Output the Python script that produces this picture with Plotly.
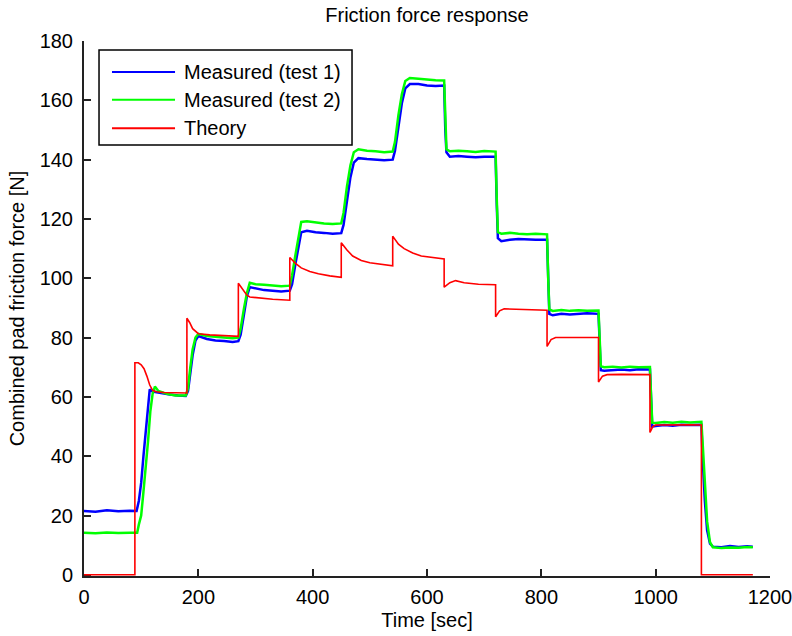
import plotly.graph_objects as go

# ---------------- data ----------------
time_test1 = [0, 20, 40, 60, 80, 92, 96, 100, 104, 108, 112, 115, 120, 135, 150, 165, 178,
              182, 186, 190, 195, 200, 215, 230, 245, 260, 270,
              274, 280, 285, 290, 300, 315, 330, 345, 360,
              364, 370, 375, 380, 390, 405, 420, 435, 450,
              454, 460, 466, 472, 480, 495, 510, 525, 540,
              544, 550, 556, 562, 570, 585, 600, 615, 630,
              632, 634, 640, 655, 670, 685, 700, 720,
              722, 724, 730, 745, 760, 775, 790, 810,
              812, 814, 820, 835, 850, 865, 880, 900,
              902, 904, 910, 925, 940, 955, 970, 990,
              992, 994, 1000, 1015, 1030, 1045, 1060, 1080,
              1082, 1086, 1090, 1095, 1100, 1115, 1130, 1145, 1160, 1170]
force_test1 = [21.5, 21.3, 21.8, 21.4, 21.6, 21.5, 25, 31, 40, 49, 58, 62.5, 61.8, 61.2, 60.8, 60.5, 60.3,
               62, 68, 74, 79, 80.5, 79.5, 79, 78.8, 78.5, 78.8,
               81, 88, 94, 97, 96.5, 96, 95.8, 95.5, 95.8,
               98, 105, 111, 115.5, 116, 115.5, 115.3, 115, 115.2,
               118, 126, 134, 139, 140.5, 140.2, 140, 139.8, 140,
               143, 151, 159, 164, 165.5, 165.5, 165, 164.8, 165,
               150, 142.5, 141, 141.2, 141, 140.8, 141, 141,
               125, 113.5, 112.5, 113, 113.2, 113, 113, 113,
               100, 88, 87.5, 88, 87.8, 88, 88.2, 88,
               78, 69, 68.8, 69, 69.2, 69, 69.3, 69.2,
               58, 50, 50.2, 50.5, 50.3, 50.6, 50.5, 50.6,
               40, 25, 15, 10.5, 9.5, 9.3, 9.7, 9.4, 9.6, 9.5]

time_test2 = [0, 20, 40, 60, 80, 93, 96, 100, 104, 108, 112, 116, 120, 124, 130, 145, 160, 178,
              182, 186, 190, 195, 200, 215, 230, 245, 260, 270,
              274, 280, 285, 290, 300, 315, 330, 345, 360,
              364, 370, 375, 380, 390, 405, 420, 435, 450,
              454, 460, 466, 472, 480, 495, 510, 525, 540,
              544, 550, 556, 562, 570, 585, 600, 615, 630,
              632, 634, 640, 655, 670, 685, 700, 720,
              722, 724, 730, 745, 760, 775, 790, 810,
              812, 814, 820, 835, 850, 865, 880, 900,
              902, 904, 910, 925, 940, 955, 970, 990,
              992, 994, 1000, 1015, 1030, 1045, 1060, 1080,
              1082, 1086, 1090, 1095, 1100, 1115, 1130, 1145, 1160, 1170]
force_test2 = [14.2, 14.0, 14.3, 14.1, 14.2, 14.2, 17, 20, 28, 36, 45, 55, 61, 63.5, 62, 61, 60.5, 60.5,
               63, 70, 76, 80, 81.2, 80.5, 80.3, 80, 79.8, 80,
               83, 90, 95, 98.5, 98, 97.8, 97.5, 97.3, 97.5,
               101, 108, 114, 119, 119.2, 118.8, 118.5, 118.3, 118.5,
               122, 131, 138, 142.5, 143.5, 143, 142.8, 142.5, 142.7,
               146, 155, 162, 166.5, 167.5, 167.3, 167, 166.8, 166.7,
               152, 143.5, 142.8, 143, 142.8, 142.6, 142.9, 142.7,
               127, 115.5, 115, 115.3, 115, 114.8, 115, 114.8,
               100, 89.5, 89, 89.3, 89, 89.2, 89, 89.1,
               80, 70.3, 70, 70.2, 69.9, 70.2, 70, 70.1,
               60, 51.3, 51.2, 51.5, 51.3, 51.6, 51.4, 51.6,
               45, 30, 18, 11, 9.3, 9.0, 9.2, 9.1, 9.4, 9.3]

time_theory = [0, 89, 89, 95, 100, 105, 110, 115, 120, 126, 140, 160, 180,
               180, 185, 190, 195, 200, 220, 240, 270,
               270, 275, 280, 285, 290, 310, 330, 360,
               360, 370, 380, 395, 410, 430, 450,
               450, 460, 470, 485, 500, 520, 540,
               540, 550, 560, 575, 590, 610, 630,
               630, 640, 650, 665, 690, 720,
               720, 727, 735, 760, 790, 810,
               810, 817, 825, 850, 880, 900,
               900, 907, 915, 940, 970, 990,
               990, 995, 1000, 1030, 1060, 1080,
               1080, 1120, 1170]
force_theory = [0, 0, 71.5, 71.5, 70.8, 69.5, 67, 64, 62.2, 61.7, 61.5, 61.5, 61.3,
                86.5, 85, 83, 82, 81.3, 80.9, 80.7, 80.4,
                98.3, 97, 95.5, 94.3, 93.7, 93.2, 92.9, 92.6,
                107, 105, 103.5, 102.3, 101.5, 100.8, 100.3,
                112, 109.5, 107.5, 106, 105.2, 104.6, 104.2,
                114.2, 111.5, 110, 108.5, 107.5, 107, 106.5,
                97, 98.5, 99.2, 98.5, 98, 97.8,
                87, 89, 89.7, 89.5, 89.3, 89.2,
                77, 79.3, 80, 80.1, 80, 80,
                65, 67, 67.5, 67.6, 67.5, 67.5,
                48, 50, 50.5, 50.6, 50.6, 50.5,
                0, 0, 0]

series_names = ["Measured (test 1)", "Measured (test 2)", "Theory"]
series_colors = ["#0000FF", "#00FF00", "#FF0000"]

x_ticks = [0, 200, 400, 600, 800, 1000, 1200]
y_ticks = [0, 20, 40, 60, 80, 100, 120, 140, 160, 180]

FONT = "Liberation Sans, Arial, sans-serif"
FS = 20

fig = go.Figure()
fig.add_trace(go.Scatter(x=time_test1, y=force_test1, mode="lines", name=series_names[0],
                         line=dict(color=series_colors[0], width=2.5), showlegend=False))
fig.add_trace(go.Scatter(x=time_test2, y=force_test2, mode="lines", name=series_names[1],
                         line=dict(color=series_colors[1], width=2.5), showlegend=False))
fig.add_trace(go.Scatter(x=time_theory, y=force_theory, mode="lines", name=series_names[2],
                         line=dict(color=series_colors[2], width=1.6), showlegend=False))

# manual MATLAB-style legend box
lx0, lx1, ly0, ly1 = 0.0219, 0.3907, 0.8056, 0.9832
fig.add_shape(type="rect", xref="paper", yref="paper", x0=lx0, x1=lx1, y0=ly0, y1=ly1,
              line=dict(color="black", width=1.5), fillcolor="white", layer="above")
row_y = [0.942, 0.890, 0.837]
for name, col, yy in zip(series_names, series_colors, row_y):
    fig.add_shape(type="line", xref="paper", yref="paper", x0=0.0408, x1=0.1327, y0=yy, y1=yy,
                  line=dict(color=col, width=2), layer="above")
    fig.add_annotation(xref="paper", yref="paper", x=0.1429, y=yy, text=name, showarrow=False,
                       xanchor="left", yanchor="middle", font=dict(family=FONT, size=FS, color="black"))

fig.update_layout(
    width=792, height=636,
    margin=dict(l=84, r=22, t=41, b=60),
    paper_bgcolor="white", plot_bgcolor="white",
    font=dict(family=FONT, size=FS, color="black"),
    title=dict(text="Friction force response", x=0.5, xref="paper", y=1 - 15 / 636,
               yref="container", xanchor="center", yanchor="middle",
               font=dict(family=FONT, size=FS, color="black")),
    showlegend=False,
)
fig.update_xaxes(range=[0, 1200], tickvals=x_ticks, ticktext=[str(v) for v in x_ticks],
                 showgrid=False, zeroline=False, showline=True, linecolor="#222", linewidth=2,
                 ticks="inside", ticklen=7, tickwidth=1.5, tickcolor="#222", mirror=False,
                 automargin=False, layer="below traces", ticklabelstandoff=2,
                 ticklabeloverflow="allow",
                 title=dict(text="Time [sec]", standoff=6, font=dict(family=FONT, size=FS)))
fig.update_yaxes(range=[-0.4, 180], tickvals=y_ticks, ticktext=[str(v) for v in y_ticks],
                 showgrid=False, zeroline=False, showline=True, linecolor="#222", linewidth=2,
                 ticks="inside", ticklen=7, tickwidth=1.5, tickcolor="#222", mirror=False,
                 ticklabelstandoff=5, automargin=False, layer="below traces",
                 ticklabeloverflow="allow",
                 title=dict(text="Combined pad friction force [N]", standoff=10,
                            font=dict(family=FONT, size=FS)))

fig.write_html("out.html", config={"displayModeBar": False},
               post_script="document.body.style.margin='0px';")
